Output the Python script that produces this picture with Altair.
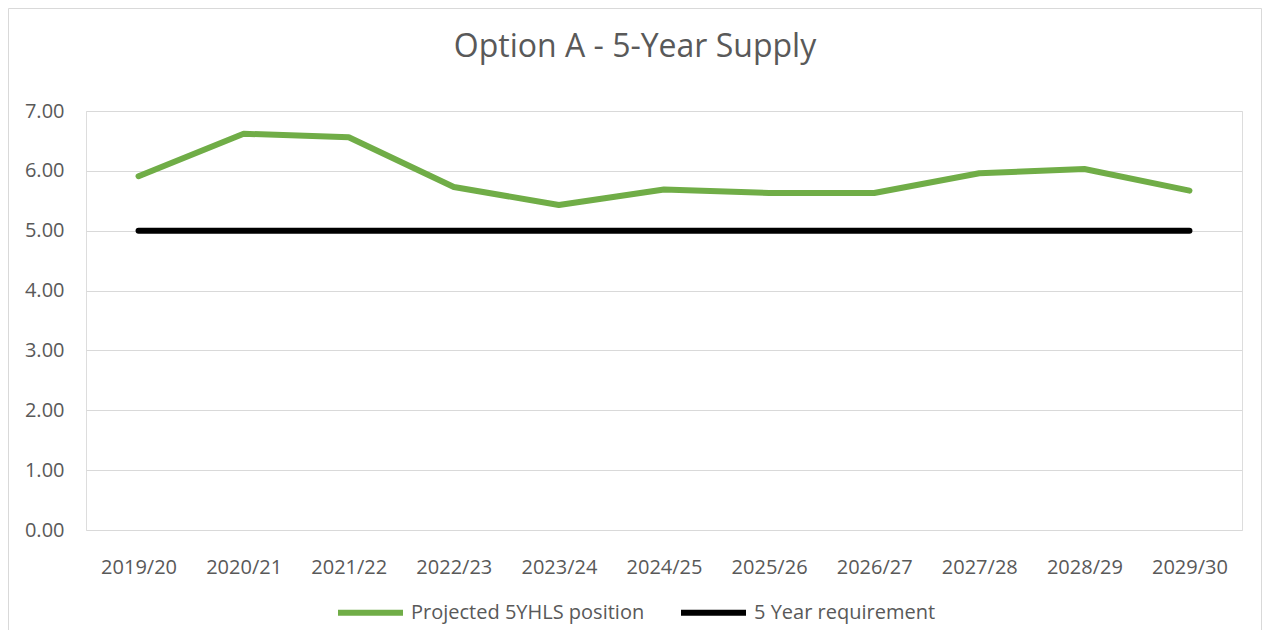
import altair as alt
import pandas as pd

years = ["2019/20", "2020/21", "2021/22", "2022/23", "2023/24", "2024/25",
         "2025/26", "2026/27", "2027/28", "2028/29", "2029/30"]
projected = [5.91, 6.62, 6.56, 5.73, 5.43, 5.69, 5.63, 5.63, 5.96, 6.03, 5.67]
requirement = [5.00, 5.00, 5.00, 5.00, 5.00, 5.00, 5.00, 5.00, 5.00, 5.00, 5.00]
series_names = ["Projected 5YHLS position", "5 Year requirement"]
series_colors = ["#70AD47", "#000000"]
y_ticks = [0, 1, 2, 3, 4, 5, 6, 7]

rows = []
for yr, p, r in zip(years, projected, requirement):
    rows.append({"year": yr, "series": series_names[0], "value": p})
    rows.append({"year": yr, "series": series_names[1], "value": r})
df = pd.DataFrame(rows)

FONT = "Open Sans"
TXT = "#595959"

frame = alt.Chart(alt.Data(values=[{}])).mark_rect(
    filled=False, stroke="#D9D9D9", strokeWidth=1
).encode(
    x=alt.value(-77.5), x2=alt.value(1175.5), y=alt.value(-102.5), y2=alt.value(540)
)

lines = alt.Chart(df).mark_line(
    strokeWidth=6, strokeCap="round", strokeJoin="round"
).encode(
    x=alt.X("year:N", sort=years,
            axis=alt.Axis(title=None, labelAngle=0, labelPadding=27, domain=False,
                          ticks=False, grid=False, labelFontSize=20, labelColor=TXT,
                          labelFont=FONT)),
    y=alt.Y("value:Q", scale=alt.Scale(domain=[0, 7], nice=False),
            axis=alt.Axis(title=None, values=y_ticks, format=".2f", domain=False,
                          ticks=False, grid=True, gridColor="#D9D9D9", gridWidth=1,
                          labelPadding=22, labelFontSize=20, labelColor=TXT,
                          labelFont=FONT)),
    color=alt.Color("series:N", sort=series_names,
                    scale=alt.Scale(domain=series_names, range=series_colors),
                    legend=alt.Legend(title=None, orient="none", legendX=249, legendY=466,
                                      direction="horizontal", symbolType="stroke",
                                      symbolSize=4225, symbolStrokeWidth=6,
                                      labelFontSize=20, labelColor=TXT, labelFont=FONT,
                                      labelOffset=5, columnPadding=24, padding=0,
                                      labelLimit=400)),
    detail="series:N",
)

chart = alt.layer(frame, lines).properties(
    width=1156,
    height=419,
    title=alt.TitleParams("Option A - 5-Year Supply", anchor="middle", frame="bounds",
                          baseline="alphabetic", offset=-81, fontSize=32, font=FONT,
                          color=TXT, fontWeight="normal"),
    autosize=alt.AutoSizeParams(type="none"),
    padding={"left": 78, "top": 103, "right": 20, "bottom": 100},
).configure_view(strokeWidth=0).configure(background="white")

chart.save("out.html", embed_options={"renderer": "svg", "actions": False})
